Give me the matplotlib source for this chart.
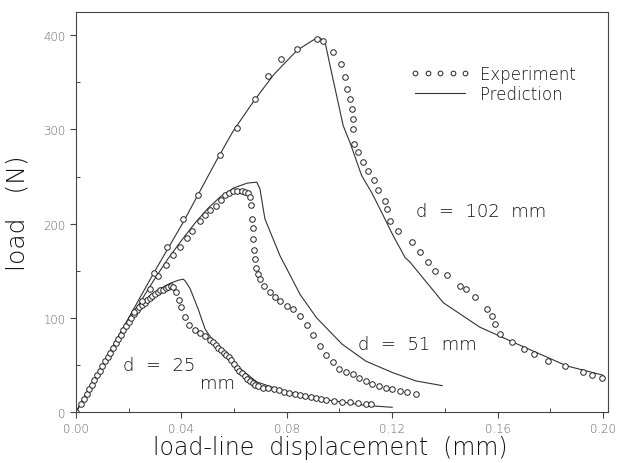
import numpy as np
import matplotlib
matplotlib.use("Agg")
import matplotlib.pyplot as plt
from matplotlib.lines import Line2D
from matplotlib.ticker import MultipleLocator

plt.rcParams['font.family'] = ['DejaVu Sans']
plt.rcParams['font.weight'] = 'light'
plt.rcParams['axes.labelweight'] = 'light'

# -----------------------------
# data (x in mm, load in N)
# -----------------------------
exp25_x = [0.000, 0.002, 0.003, 0.004, 0.005, 0.006, 0.007, 0.008, 0.009, 0.010,
           0.011, 0.012, 0.013, 0.014, 0.015, 0.016, 0.017, 0.018, 0.019, 0.020,
           0.021, 0.022, 0.023, 0.024, 0.025, 0.026, 0.027, 0.028, 0.029, 0.030,
           0.031, 0.032, 0.033, 0.034, 0.035, 0.036, 0.037, 0.038, 0.039, 0.040,
           0.0415, 0.043, 0.045, 0.047, 0.049, 0.051, 0.052, 0.053, 0.054, 0.055,
           0.056, 0.057, 0.058, 0.059, 0.060, 0.061, 0.062, 0.063, 0.064, 0.065,
           0.066, 0.067, 0.068, 0.069, 0.071, 0.073, 0.075, 0.077, 0.079, 0.081,
           0.083, 0.085, 0.087, 0.089, 0.091, 0.093, 0.095, 0.098, 0.101, 0.104,
           0.107, 0.110, 0.112]
exp25_y = [0, 9, 14, 19, 24, 29, 34, 39, 44, 49,
           54, 58, 63, 68, 73, 77, 82, 87, 91, 96,
           100, 104, 108, 111, 114, 116, 119, 121, 123, 125,
           127, 129, 130, 132, 133, 134, 133, 127, 119, 111,
           101, 92, 87, 84, 81, 76, 74, 71, 68, 66,
           63, 61, 58, 55, 51, 47, 44, 41, 38, 35,
           33, 31, 29, 28, 26, 25, 24, 23, 21, 20,
           19, 18, 17, 16, 15, 14, 13, 12, 11, 11,
           10, 9, 9]

pred25_x = [0.000, 0.010, 0.020, 0.025, 0.028, 0.032, 0.036, 0.039, 0.0407, 0.0415,
            0.0433, 0.0464, 0.049, 0.0534, 0.061, 0.0686, 0.079, 0.090, 0.100, 0.110, 0.120]
pred25_y = [0, 49, 98, 116, 123, 131, 137, 140, 141, 139,
            131, 109, 88, 70, 49, 32, 22, 15, 11, 7, 5]

exp51_x = [0.022, 0.025, 0.028, 0.031, 0.034, 0.037, 0.0395, 0.042, 0.044, 0.047,
           0.049, 0.051, 0.053, 0.055, 0.0565, 0.058, 0.0597, 0.061, 0.0629, 0.064,
           0.0654, 0.066, 0.0663, 0.0667, 0.067, 0.0673, 0.0676, 0.068, 0.0685, 0.069,
           0.0698, 0.0715, 0.0736, 0.0755, 0.0774, 0.080, 0.0825, 0.085, 0.0876, 0.090,
           0.0925, 0.095, 0.0977, 0.100, 0.1025, 0.105, 0.1075, 0.110, 0.1125, 0.115,
           0.1175, 0.120, 0.123, 0.1255, 0.129]
exp51_y = [106, 118, 131, 144, 156, 167, 175, 185, 192, 203,
           209, 214, 219, 225, 230, 233, 235, 235, 235, 234,
           233, 228, 220, 205, 195, 184, 172, 162, 153, 146,
           141, 134, 127, 122, 118, 113, 109, 102, 92, 82,
           70, 60, 53, 46, 42, 40, 36, 33, 30, 28,
           26, 24, 22, 21, 19]

pred51_x = [0.000, 0.010, 0.020, 0.030, 0.035, 0.040, 0.045, 0.050, 0.055, 0.060, 0.065,
            0.0686, 0.0698, 0.0717, 0.0774, 0.085, 0.0913, 0.101, 0.110, 0.120, 0.129, 0.139]
pred51_y = [0, 49, 97, 142, 163, 182, 200, 216, 229, 238, 243,
            244, 237, 205, 166, 125, 100, 72, 54, 42, 33, 28]

exp102_x = [0.0295, 0.0344, 0.0407, 0.0464, 0.0546, 0.061, 0.0679, 0.073, 0.0778, 0.0837,
            0.0913, 0.0939, 0.0974, 0.1006, 0.102, 0.1027, 0.104, 0.1046, 0.1052, 0.1052,
            0.1054, 0.107, 0.109, 0.111, 0.113, 0.1147, 0.1173, 0.118, 0.119, 0.1223,
            0.1274, 0.1305, 0.1337, 0.1362, 0.1407, 0.1457, 0.148, 0.1514, 0.156, 0.158,
            0.159, 0.161, 0.1654, 0.170, 0.174, 0.179, 0.1856, 0.1925, 0.196, 0.1995]
exp102_y = [148, 175, 205, 230, 273, 302, 332, 357, 375, 385,
            396, 394, 382, 369, 356, 343, 332, 322, 311, 300,
            285, 276, 265, 256, 246, 236, 224, 215, 203, 192,
            180, 170, 159, 150, 145, 134, 131, 122, 109, 102,
            93, 83, 74, 67, 62, 54, 49, 42, 39, 36]

pred102_x = [0.000, 0.010, 0.020, 0.030, 0.0406, 0.0535, 0.0596, 0.0672, 0.075, 0.0839,
             0.0907, 0.0926, 0.0945, 0.0964, 0.1014, 0.104, 0.1084, 0.1122, 0.116, 0.1204,
             0.1249, 0.1268, 0.1394, 0.1533, 0.166, 0.1862, 0.2001]
pred102_y = [0, 50, 100, 150, 201, 268, 298, 329, 358, 384,
             396, 397, 393, 368, 304, 286, 251, 233, 212, 187,
             164, 159, 116, 90, 74, 49, 39]

x_ticks = [0.00, 0.04, 0.08, 0.12, 0.16, 0.20]
x_ticklabels = ["0.00", "0.04", "0.08", "0.12", "0.16", "0.20"]
y_ticks = [0, 100, 200, 300, 400]

# -----------------------------
# plot
# -----------------------------
fig = plt.figure(figsize=(6.2, 4.64), dpi=100)
ax = fig.add_axes([0.1226, 0.1099, 0.858, 0.862])

mk = dict(marker='o', markersize=4.0, markerfacecolor='white',
          markeredgecolor='#222222', markeredgewidth=0.7, linestyle='none')
ln = dict(color='#333333', linewidth=0.8)

for px, py in [(pred25_x, pred25_y), (pred51_x, pred51_y), (pred102_x, pred102_y)]:
    ax.plot(px, py, **ln)
for ex, ey in [(exp25_x, exp25_y), (exp51_x, exp51_y), (exp102_x, exp102_y)]:
    ax.plot(ex, ey, **mk)

ax.set_xlim(0, 0.2019)
ax.set_ylim(0, 424.6)

ax.set_xticks(x_ticks)
ax.set_xticklabels(x_ticklabels)
ax.set_yticks(y_ticks)
ax.xaxis.set_minor_locator(MultipleLocator(0.02))
ax.yaxis.set_minor_locator(MultipleLocator(50))
ax.tick_params(axis='both', which='major', direction='out', length=4,
               width=0.8, labelsize=8.5, labelcolor='#666666', color='#444444')
ax.tick_params(axis='both', which='minor', direction='in', length=3,
               width=0.7, color='#444444')
for s in ax.spines.values():
    s.set_linewidth(0.8)
    s.set_color('#444444')

ax.set_xlabel("load-line  displacement  (mm)", fontsize=17, color='#111111')
ax.xaxis.set_label_coords(0.478, -0.058)
ax.xaxis.label.set_va('top')
ax.set_ylabel("load   (N)", fontsize=18, color='#111111', labelpad=10)

# curve labels
tkw = dict(fontsize=13, color='#111111')
ax.text(0.129, 208, "d  =  102  mm", **tkw)
ax.text(0.107, 67, "d  =  51  mm", **tkw)
ax.text(0.0178, 45, "d  =  25", **tkw)
ax.text(0.0472, 25, "mm", **tkw)

# legend
leg_mk = dict(mk, markersize=3.4)
handles = [Line2D([], [], **leg_mk), Line2D([], [], **ln)]
leg = ax.legend(handles, ["Experiment", "Prediction"], numpoints=5, frameon=False,
                loc='upper left', bbox_to_anchor=(0.6, 0.905), handlelength=3.6,
                handletextpad=0.6, labelspacing=0.1, fontsize=12)
for t in leg.get_texts():
    t.set_color('#111111')

fig.savefig("out.png", dpi=100)
